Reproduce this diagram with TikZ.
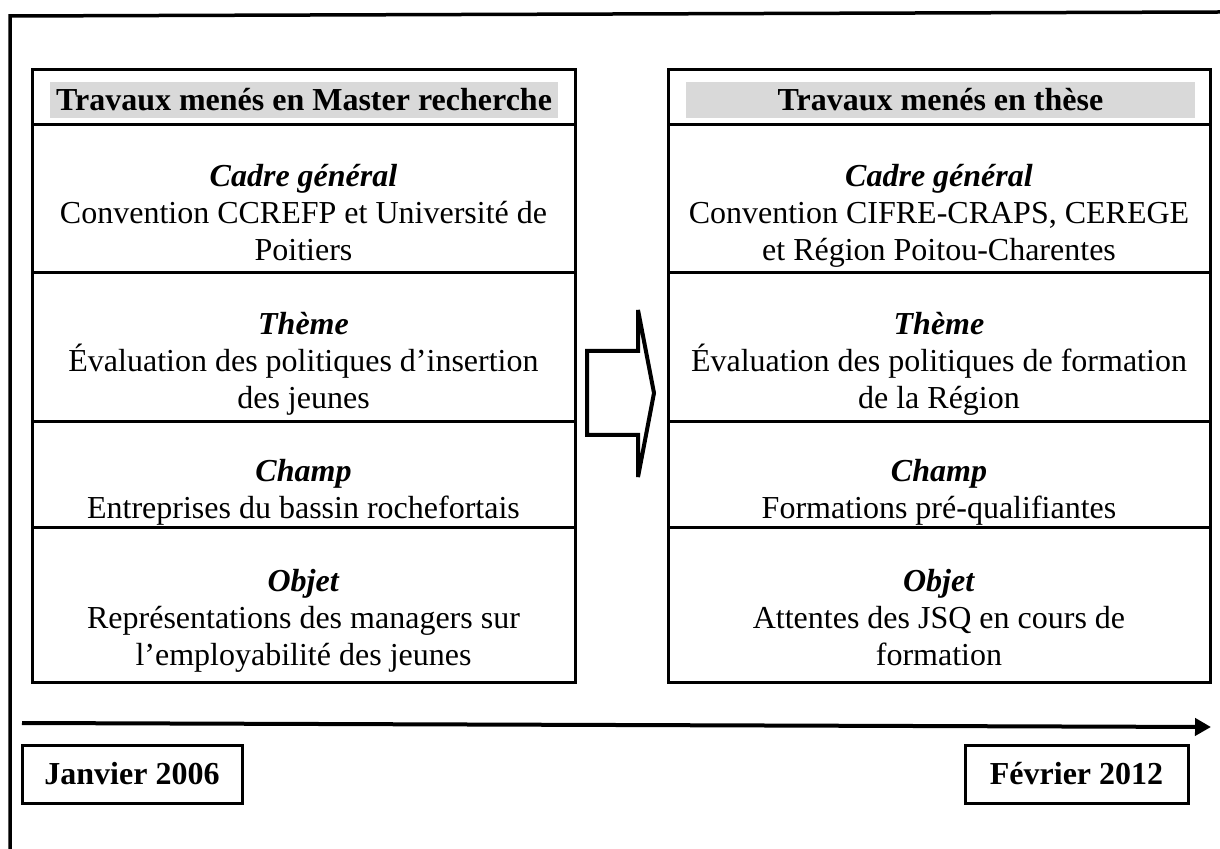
\documentclass[tikz,border=0pt]{standalone}
\usepackage{fontspec}
\setmainfont{Liberation Serif}
\usetikzlibrary{arrows.meta}
\definecolor{hdrgray}{HTML}{D9D9D9}
\newcommand{\celltitle}[1]{\textbf{\textit{#1}}}
\begin{document}
\begin{tikzpicture}[x=0.5pt,y=-0.5pt,
  framerule/.style={line width=1.75pt},
  colbox/.style={draw, line width=1.5pt, inner sep=0, minimum width=271.5pt, minimum height=306pt},
  seprule/.style={line width=1.5pt},
  hdr/.style={fill=hdrgray, inner sep=0, minimum height=18pt, font=\bfseries\fontsize{16}{18.5}\selectfont},
  cell/.style={align=center, anchor=north, inner sep=0, font=\fontsize{16}{18.5}\selectfont},
  datebox/.style={draw, line width=1.5pt, inner sep=0, minimum height=29pt, font=\bfseries\fontsize{16}{18.5}\selectfont}]
\useasboundingbox (0,0) rectangle (1220,849);
% outer frame
\draw[framerule] (10,849) -- (10,16) -- (1220,12);
% columns
\node[colbox] (L) at (303.5,376) {};
\node[colbox, minimum width=271pt] (R) at (939,376) {};
% separators
\foreach \yy in {125,273,422,528}{
  \draw[seprule] (32,\yy) -- (575,\yy);
  \draw[seprule] (668,\yy) -- (1210,\yy);
}
% headers
\node[hdr, minimum width=254pt] (Lh) at (304,100) {Travaux menés en Master recherche};
\node[hdr, minimum width=254.5pt] (Rh) at (940.5,100) {Travaux menés en thèse};
% left cells
\node[cell] (Lc) at (303.5,163.5) {\celltitle{Cadre général}\\Convention CCREFP et Université de\\Poitiers};
\node[cell] (Lt) at (303.5,311.5) {\celltitle{Thème}\\Évaluation des politiques d’insertion\\des jeunes};
\node[cell] (Lch) at (303.5,458.5) {\celltitle{Champ}\\Entreprises du bassin rochefortais};
\node[cell] (Lo) at (303.5,568.5) {\celltitle{Objet}\\Représentations des managers sur\\l’employabilité des jeunes};
% right cells
\node[cell] (Rc) at (939,163.5) {\celltitle{Cadre général}\\Convention CIFRE-CRAPS, CEREGE\\et Région Poitou-Charentes};
\node[cell] (Rt) at (939,311.5) {\celltitle{Thème}\\Évaluation des politiques de formation\\de la Région};
\node[cell] (Rch) at (939,458.5) {\celltitle{Champ}\\Formations pré-qualifiantes};
\node[cell] (Ro) at (939,568.5) {\celltitle{Objet}\\Attentes des JSQ en cours de\\formation};
% block arrow
\draw[line width=2pt, line join=miter] (587,351) -- (638,351) -- (638,310) -- (654,393) -- (638,477) -- (638,435) -- (587,435) -- cycle;
% timeline
\coordinate (t0) at (22,723);
\coordinate (t1) at (1211,727);
\draw[line width=2pt, -{Triangle[length=8pt,width=8.5pt]}] (t0) -- (t1);
% dates
\node[datebox, minimum width=110pt] (d1) at (132,774) {Janvier 2006};
\node[datebox, minimum width=111.5pt] (d2) at (1076.5,774) {Février 2012};
\end{tikzpicture}
\end{document}
